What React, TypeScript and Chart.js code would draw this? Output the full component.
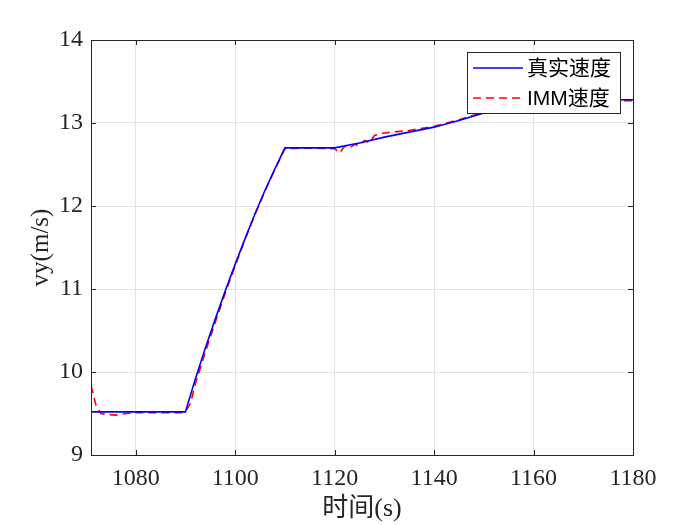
import React, { useEffect, useRef } from "react";
import { Chart, registerables } from "chart.js";

Chart.register(...registerables);

const trueTimes = [1071, 1090, 1092, 1094, 1096, 1098, 1100, 1102, 1104, 1106, 1108, 1110, 1120, 1125, 1130, 1135, 1140, 1145, 1150, 1153, 1155, 1180];
const trueVy = [9.52, 9.52, 9.92, 10.29, 10.64, 10.98, 11.3, 11.61, 11.91, 12.19, 12.45, 12.7, 12.7, 12.76, 12.83, 12.89, 12.95, 13.03, 13.12, 13.2, 13.27, 13.28];

const immTimes = [1071, 1072, 1073, 1074, 1076, 1078, 1080, 1085, 1089, 1090, 1091, 1092, 1094, 1096, 1098, 1100, 1102, 1104, 1106, 1108, 1110, 1115, 1120, 1121, 1122, 1123, 1124, 1125, 1126, 1127, 1128, 1130, 1135, 1140, 1145, 1150, 1153, 1155, 1180];
const immVy = [9.84, 9.6, 9.5, 9.49, 9.48, 9.5, 9.51, 9.51, 9.51, 9.52, 9.62, 9.86, 10.24, 10.6, 10.95, 11.28, 11.6, 11.9, 12.18, 12.44, 12.69, 12.7, 12.69, 12.64, 12.72, 12.7, 12.74, 12.73, 12.79, 12.76, 12.85, 12.88, 12.91, 12.96, 13.04, 13.13, 13.21, 13.27, 13.27];

const xTicks = [1080, 1100, 1120, 1140, 1160, 1180];
const yTicks = [9, 10, 11, 12, 13, 14];

const seriesLabels = ["真实速度", "IMM速度"];
const xTitle = "时间(s)";
const yTitle = "vy(m/s)";

const SERIF = "'Liberation Serif', 'Times New Roman', 'Noto Sans CJK SC', serif";
const SANS = "'Liberation Sans', Arial, 'Noto Sans CJK SC', sans-serif";

const boxPlugin = {
  id: "boxPlugin",
  afterDatasetsDraw(chart: any) {
    const { ctx, chartArea: a, scales } = chart;
    ctx.save();
    ctx.strokeStyle = "#262626";
    ctx.lineWidth = 1;
    ctx.strokeRect(a.left + 0.5, a.top + 0.5, a.right - a.left, a.bottom - a.top);
    const tl = 5;
    ctx.beginPath();
    for (const v of xTicks) {
      const px = Math.round(scales.x.getPixelForValue(v)) + 0.5;
      ctx.moveTo(px, a.bottom);
      ctx.lineTo(px, a.bottom - tl);
      ctx.moveTo(px, a.top);
      ctx.lineTo(px, a.top + tl);
    }
    for (const v of yTicks) {
      const py = Math.round(scales.y.getPixelForValue(v)) + 0.5;
      ctx.moveTo(a.left, py);
      ctx.lineTo(a.left + tl, py);
      ctx.moveTo(a.right, py);
      ctx.lineTo(a.right - tl, py);
    }
    ctx.stroke();

    const lx = 467, ly = 52, lw = 153, lh = 61;
    ctx.fillStyle = "#ffffff";
    ctx.fillRect(lx, ly, lw, lh);
    ctx.strokeStyle = "#262626";
    ctx.strokeRect(lx + 0.5, ly + 0.5, lw, lh);
    const rows = [
      { y: ly + 16, color: "#0000ff", dash: [] as number[] },
      { y: ly + 46, color: "#ff0000", dash: [8, 5] },
    ];
    ctx.font = `21px ${SANS}`;
    ctx.textBaseline = "middle";
    rows.forEach((r, i) => {
      ctx.beginPath();
      ctx.setLineDash(r.dash);
      ctx.strokeStyle = r.color;
      ctx.lineWidth = 1.6;
      ctx.moveTo(lx + 6, r.y);
      ctx.lineTo(lx + 56, r.y);
      ctx.stroke();
      ctx.setLineDash([]);
      ctx.fillStyle = "#000000";
      ctx.fillText(seriesLabels[i], lx + 60, r.y + 1);
    });
    ctx.restore();
  },
};

export default function App() {
  const ref = useRef<HTMLCanvasElement | null>(null);
  useEffect(() => {
    document.body.style.margin = "0";
    const canvas = ref.current!;
    const chart = new Chart(canvas, {
      type: "line",
      data: {
        datasets: [
          {
            label: seriesLabels[0],
            data: trueTimes.map((t, i) => ({ x: t, y: trueVy[i] })),
            borderColor: "#0000ff",
            borderWidth: 1.6,
            pointRadius: 0,
            tension: 0,
            fill: false,
          },
          {
            label: seriesLabels[1],
            data: immTimes.map((t, i) => ({ x: t, y: immVy[i] })),
            borderColor: "#ff0000",
            borderWidth: 1.6,
            borderDash: [8, 5],
            pointRadius: 0,
            tension: 0,
            fill: false,
          },
        ],
      },
      options: {
        animation: false,
        responsive: false,
        maintainAspectRatio: false,
        layout: { padding: { left: 0, right: 67, top: 40, bottom: 0 } },
        plugins: { legend: { display: false }, tooltip: { enabled: false } },
        scales: {
          x: {
            type: "linear",
            min: 1071,
            max: 1180,
            afterBuildTicks: (s: any) => {
              s.ticks = xTicks.map((v) => ({ value: v }));
            },
            afterFit: (s: any) => {
              s.height = 70;
            },
            grid: { color: "#e3e3e3", drawTicks: false },
            border: { display: false },
            ticks: {
              padding: 9,
              color: "#262626",
              font: { family: SERIF, size: 24 },
              maxRotation: 0,
              callback: (v: any) => String(v),
            },
            title: {
              display: true,
              text: xTitle,
              color: "#262626",
              font: { family: SERIF, size: 26 },
              padding: { top: 0, bottom: 0 },
            },
          },
          y: {
            type: "linear",
            min: 9,
            max: 14,
            afterBuildTicks: (s: any) => {
              s.ticks = yTicks.map((v) => ({ value: v }));
            },
            afterFit: (s: any) => {
              s.width = 91;
            },
            grid: { color: "#e3e3e3", drawTicks: false },
            border: { display: false },
            ticks: {
              padding: 8,
              color: "#262626",
              font: { family: SERIF, size: 24 },
              callback: (v: any) => String(v),
            },
            title: {
              display: true,
              text: yTitle,
              color: "#262626",
              font: { family: SERIF, size: 25 },
              padding: { top: 26, bottom: 0 },
            },
          },
        },
      },
      plugins: [boxPlugin],
    });
    return () => chart.destroy();
  }, []);
  return (
    <div style={{ position: "absolute", left: 0, top: 0, width: 700, height: 525, background: "#fff" }}>
      <canvas ref={ref} width={700} height={525} style={{ width: 700, height: 525, display: "block" }} />
    </div>
  );
}
